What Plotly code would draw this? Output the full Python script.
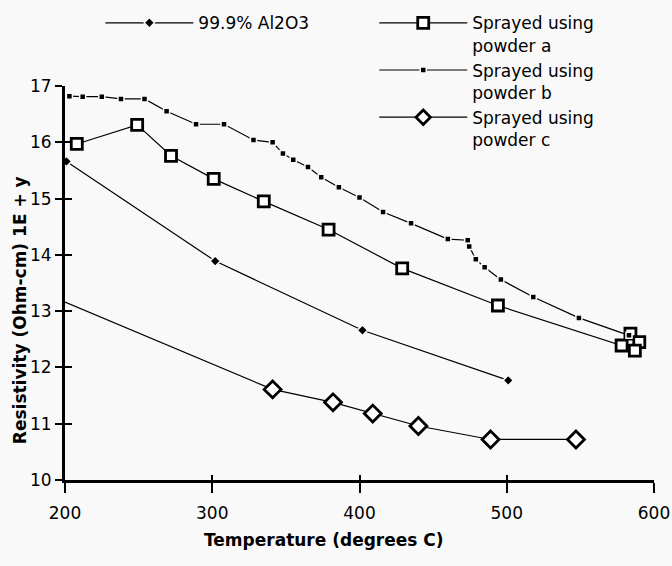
import plotly.graph_objects as go

# ---- data ----
al_T = [201, 302, 402, 501]
al_R = [15.66, 13.89, 12.66, 11.77]

a_T = [208, 249, 272, 301, 335, 379, 429, 494, 578, 584, 590, 587]
a_R = [15.97, 16.31, 15.76, 15.35, 14.95, 14.45, 13.76, 13.10, 12.39, 12.60, 12.45, 12.30]

b_T = [203, 212, 225, 238, 254, 269, 289, 308, 328, 341, 348, 355, 365, 374, 386,
       400, 416, 435, 460, 473.5, 474.5, 479, 485, 496, 518, 549, 583]
b_R = [16.82, 16.81, 16.81, 16.77, 16.77, 16.55, 16.32, 16.32, 16.04, 16.00, 15.80,
       15.69, 15.56, 15.38, 15.20, 15.02, 14.76, 14.56, 14.28, 14.26, 14.15, 13.92,
       13.78, 13.56, 13.25, 12.88, 12.57]

c_T = [200, 341, 382, 409, 440, 489, 547]
c_R = [13.16, 11.61, 11.38, 11.18, 10.96, 10.72, 10.72]
c_marker_on = [0, 1, 1, 1, 1, 1, 1]

x_ticks = [200, 300, 400, 500, 600]
y_ticks = [10, 11, 12, 13, 14, 15, 16, 17]

names = ["99.9% Al2O3", "Sprayed using<br>powder a", "Sprayed using<br>powder b",
         "Sprayed using<br>powder c"]

FONT = "DejaVu Sans"
BG = "#f9f9f9"

fig = go.Figure()

fig.add_trace(go.Scatter(
    x=al_T, y=al_R, name=names[0], mode="lines+markers", legend="legend",
    line=dict(color="black", width=1.2),
    marker=dict(symbol="diamond", size=8, color="black", line=dict(color=BG, width=1.5)),
    cliponaxis=False))

fig.add_trace(go.Scatter(
    x=a_T, y=a_R, name=names[1], mode="lines+markers", legend="legend2",
    line=dict(color="black", width=1.2),
    marker=dict(symbol="square", size=11, color="white", line=dict(color="black", width=2.8)),
    cliponaxis=False))

fig.add_trace(go.Scatter(
    x=b_T, y=b_R, name=names[2], mode="lines+markers", legend="legend2",
    line=dict(color="black", width=1.2),
    marker=dict(symbol="square", size=6, color="black", line=dict(color=BG, width=1.5)),
    cliponaxis=False))

fig.add_trace(go.Scatter(
    x=c_T, y=c_R, name=names[3], mode="lines+markers", legend="legend2",
    line=dict(color="black", width=1.2),
    marker=dict(symbol="diamond", size=[13 * m for m in c_marker_on], color="white",
                opacity=1, line=dict(color="black", width=2.8)),
    cliponaxis=False))

# invisible trace to host the overlay axes (inner half of the cross ticks)
fig.add_trace(go.Scatter(x=[], y=[], xaxis="x2", yaxis="y2", showlegend=False))

axis_common = dict(showgrid=False, zeroline=False, color="black")
fig.update_layout(
    width=672, height=566,
    margin=dict(l=65, r=18, t=86, b=86, autoexpand=False),
    paper_bgcolor=BG, plot_bgcolor=BG,
    font=dict(family=FONT, size=17, color="black"),
    xaxis=dict(range=[200, 600], tickvals=x_ticks, ticks="outside", ticklen=10, tickwidth=2,
               showline=True, linewidth=3, linecolor="black", ticklabelstandoff=6,
               tickfont=dict(size=17), automargin=False, **axis_common),
    yaxis=dict(range=[10, 17], tickvals=y_ticks, ticks="outside", ticklen=7, tickwidth=2,
               showline=True, linewidth=3, linecolor="black", tickfont=dict(size=17),
               automargin=False, **axis_common),
    xaxis2=dict(range=[200, 600], tickvals=x_ticks, ticks="inside", ticklen=5, tickwidth=2,
                overlaying="x", anchor="y2", showticklabels=False, showline=False,
                **axis_common),
    yaxis2=dict(range=[10, 17], tickvals=y_ticks, ticks="inside", ticklen=7, tickwidth=2,
                overlaying="y", anchor="x2", showticklabels=False, showline=False,
                **axis_common),
    legend=dict(x=0.06, y=1.205, xanchor="left", yanchor="top", bgcolor="rgba(0,0,0,0)",
                itemwidth=88, font=dict(size=17), tracegroupgap=0),
    legend2=dict(x=0.525, y=1.205, xanchor="left", yanchor="top", bgcolor="rgba(0,0,0,0)",
                 itemwidth=88, font=dict(size=17), valign="top", tracegroupgap=0),
    showlegend=True,
    annotations=[
        dict(text="<b>Temperature (degrees C)</b>", xref="paper", yref="paper",
             x=0.44, y=-0.152, showarrow=False, font=dict(size=17),
             xanchor="center", yanchor="middle"),
        dict(text="<b>Resistivity (Ohm-cm) 1E + y</b>", xref="paper", yref="paper",
             x=-0.0764, y=0.431, showarrow=False, textangle=-90, font=dict(size=17),
             xanchor="center", yanchor="middle"),
    ],
)

fig.write_html("out.html")
